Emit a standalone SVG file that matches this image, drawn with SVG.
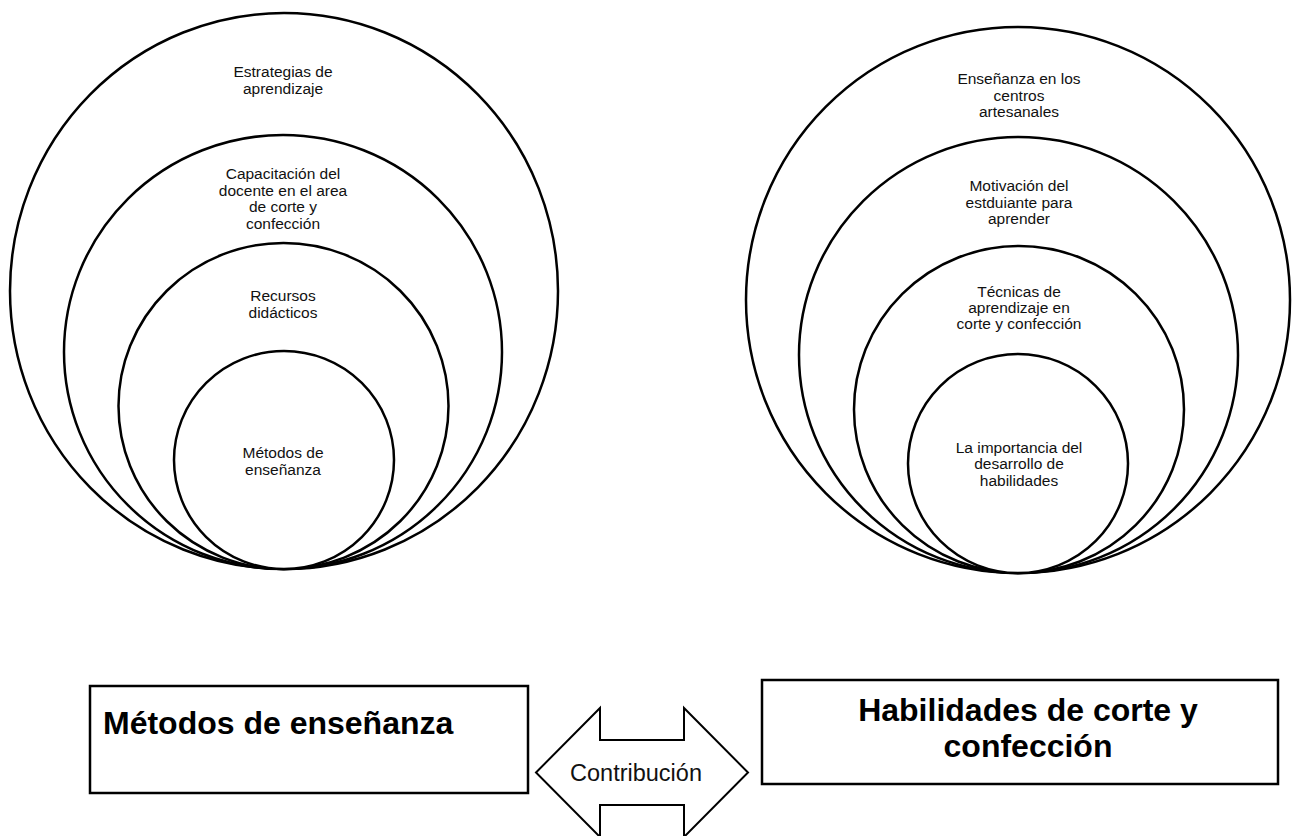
<svg xmlns="http://www.w3.org/2000/svg" width="1297" height="836" viewBox="0 0 1297 836">
  <style>
    .ring { fill: #ffffff; stroke: #000000; stroke-width: 2.5; }
    .box { fill: #ffffff; stroke: #000000; stroke-width: 2.5; }
    .small { font-family: "Liberation Sans", Arial, sans-serif; font-size: 15.5px; fill: #111111; text-anchor: middle; }
    .big { font-family: "Liberation Sans", Arial, sans-serif; font-size: 32px; font-weight: bold; fill: #000000; }
    .label { font-family: "Liberation Sans", Arial, sans-serif; font-size: 23.5px; fill: #111111; text-anchor: middle; }
    .arrow { fill: #ffffff; stroke: #000000; stroke-width: 2; stroke-linejoin: miter; }
  </style>
  <rect x="0" y="0" width="1297" height="836" fill="#ffffff"/>

  <g id="left-outer">
    <ellipse class="ring" cx="284" cy="291" rx="274" ry="278"/>
    <text class="small" x="283" y="77"><tspan x="283">Estrategias de</tspan><tspan x="283" dy="16.5">aprendizaje</tspan></text>
  </g>
  <g id="left-second">
    <ellipse class="ring" cx="283" cy="352" rx="219" ry="217"/>
    <text class="small" x="283" y="179"><tspan x="283">Capacitación del</tspan><tspan x="283" dy="16.7">docente en el area</tspan><tspan x="283" dy="16.7">de corte y</tspan><tspan x="283" dy="16.7">confección</tspan></text>
  </g>
  <g id="left-third">
    <ellipse class="ring" cx="283.5" cy="406" rx="165" ry="163"/>
    <text class="small" x="283" y="301"><tspan x="283">Recursos</tspan><tspan x="283" dy="16.5">didácticos</tspan></text>
  </g>
  <g id="left-inner">
    <ellipse class="ring" cx="284" cy="460" rx="110" ry="109"/>
    <text class="small" x="283" y="458"><tspan x="283">Métodos de</tspan><tspan x="283" dy="16.5">enseñanza</tspan></text>
  </g>

  <g id="right-outer">
    <ellipse class="ring" cx="1018" cy="300" rx="272" ry="273"/>
    <text class="small" x="1019" y="84"><tspan x="1019">Enseñanza en los</tspan><tspan x="1019" dy="16.5">centros</tspan><tspan x="1019" dy="16.5">artesanales</tspan></text>
  </g>
  <g id="right-second">
    <ellipse class="ring" cx="1018.5" cy="355" rx="219.5" ry="218"/>
    <text class="small" x="1019" y="191"><tspan x="1019">Motivación del</tspan><tspan x="1019" dy="16.5">estduiante para</tspan><tspan x="1019" dy="16.5">aprender</tspan></text>
  </g>
  <g id="right-third">
    <ellipse class="ring" cx="1019" cy="409.5" rx="165" ry="163.5"/>
    <text class="small" x="1019" y="296.5"><tspan x="1019">Técnicas de</tspan><tspan x="1019" dy="16.3">aprendizaje en</tspan><tspan x="1019" dy="16.3">corte y confección</tspan></text>
  </g>
  <g id="right-inner">
    <ellipse class="ring" cx="1018" cy="463.5" rx="110" ry="109.5"/>
    <text class="small" x="1019" y="452.5"><tspan x="1019">La importancia del</tspan><tspan x="1019" dy="16.5">desarrollo de</tspan><tspan x="1019" dy="16.5">habilidades</tspan></text>
  </g>

  <g id="box-metodos">
    <rect class="box" x="90" y="686" width="438" height="107"/>
    <text class="big" x="103" y="734">Métodos de enseñanza</text>
  </g>
  <g id="box-habilidades">
    <rect class="box" x="762" y="680" width="516" height="104"/>
    <text class="big" x="1028" y="721" text-anchor="middle"><tspan x="1028">Habilidades de corte y</tspan><tspan x="1028" dy="35.5">confección</tspan></text>
  </g>

  <g id="connectors">
    <polygon class="arrow" points="536,772.5 600,708 600,740 684,740 684,708 748,772.5 684,837 684,805 600,805 600,837"/>
    <text class="label" x="636" y="781">Contribución</text>
  </g>
</svg>
